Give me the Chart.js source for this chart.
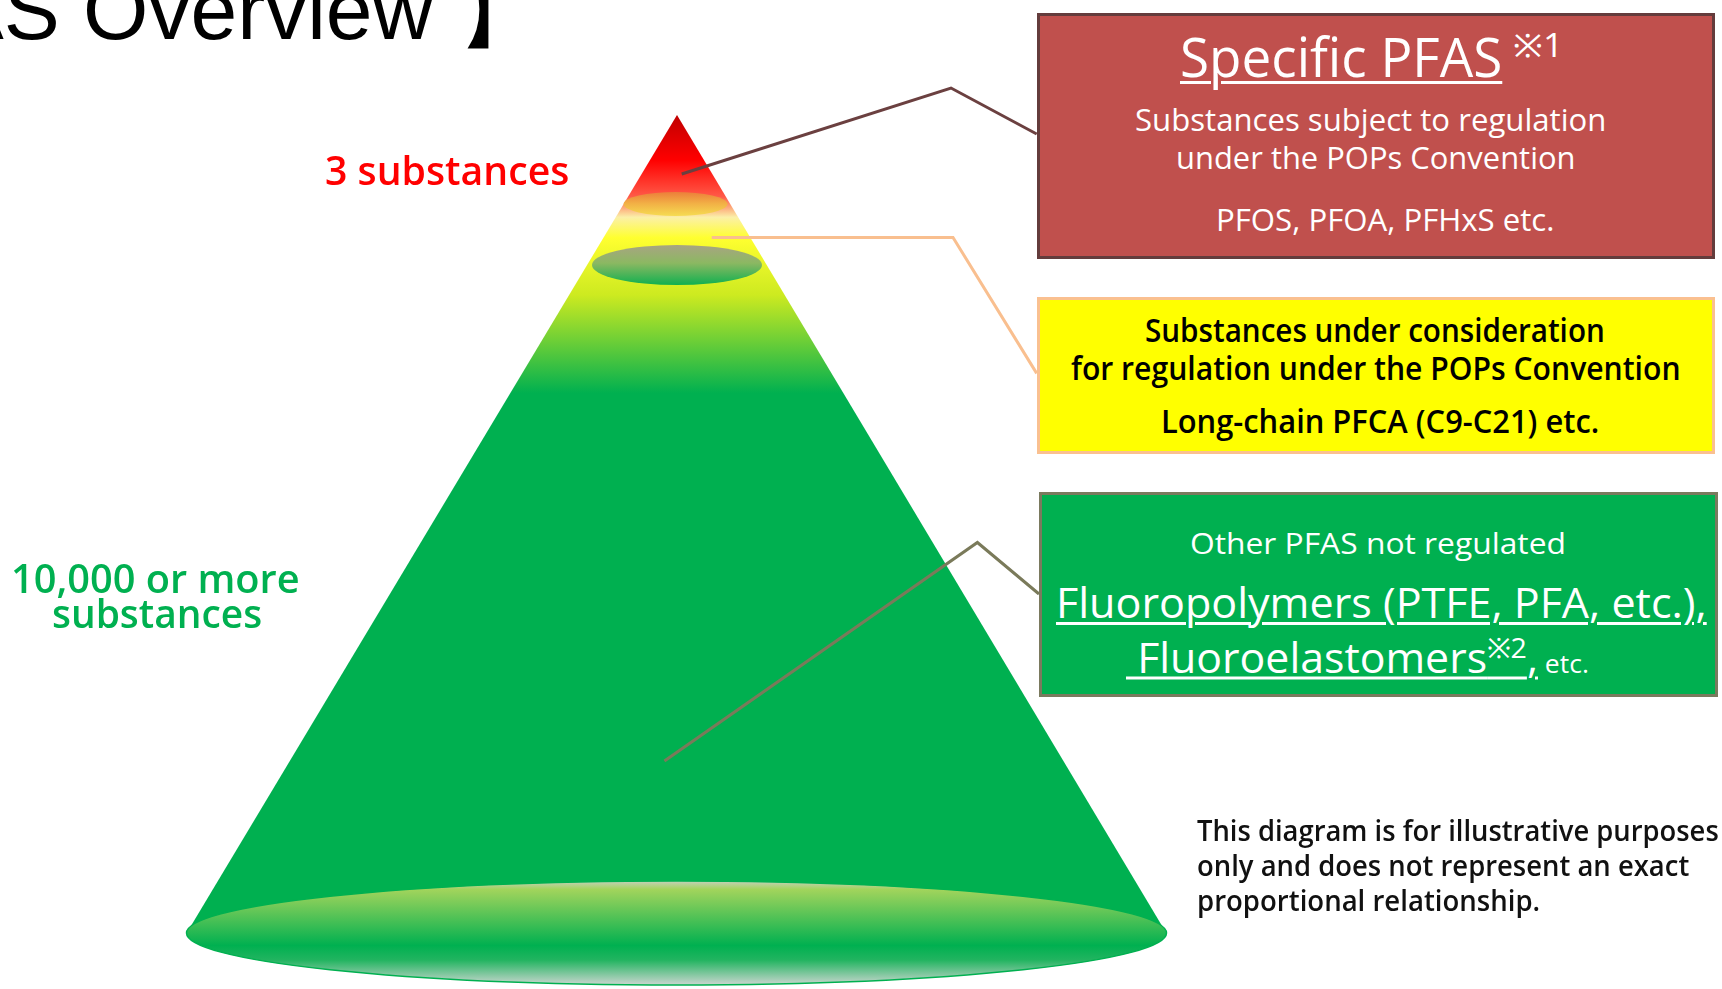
<!DOCTYPE html>
<html>
<head>
<meta charset="utf-8">
<script src="https://cdn.jsdelivr.net/npm/chart.js@4.4.1/dist/chart.umd.min.js"></script>
<style>
body{margin:0;background:#fff;overflow:hidden;width:1722px;height:989px;position:relative;font-family:"Open Sans",sans-serif}
canvas{position:absolute;left:0;top:0}
.box{position:absolute;box-sizing:border-box;border:3px solid}
.t{position:absolute;white-space:nowrap;line-height:1;transform-origin:0 50%}
.u{text-decoration:underline;text-decoration-thickness:2.5px;text-underline-offset:4px}
#title{position:absolute;top:-32px;left:0;white-space:nowrap;line-height:1;font-family:"Liberation Sans",Arial,sans-serif;font-size:84px;color:#000}
</style>
</head>
<body>
<canvas id="myChart" width="1722" height="989"></canvas>

<div id="title">【PFAS <span id="ov">Overview</span> 】</div>

<!-- boxes on the right -->
<div class="box" style="left:1037px;top:13px;width:678px;height:246px;background:#C0504D;border-color:#643c3c"></div>
<div class="box" style="left:1037px;top:297px;width:678px;height:157px;background:#FFFF00;border-color:#FAC090"></div>
<div class="box" style="left:1039px;top:492px;width:679px;height:205px;background:#00B050;border-color:#7a7a5e"></div>

<div class="t u" data-w="322" style="left:1180px;top:56px;font-size:54px;font-weight:500;color:#fff">Specific PFAS</div>
<div class="t" data-w="50" style="left:1513px;top:45px;font-size:32px;color:#fff">※1</div>
<div class="t" data-w="471" style="left:1135px;top:119px;font-size:31px;font-weight:500;color:#fff">Substances subject to regulation</div>
<div class="t" data-w="400" style="left:1176px;top:157px;font-size:31px;font-weight:500;color:#fff">under the POPs Convention</div>
<div class="t" data-w="339" style="left:1216px;top:219px;font-size:31px;font-weight:500;color:#fff">PFOS, PFOA, PFHxS etc.</div>

<div class="t" data-w="460" style="left:1145px;top:330px;font-size:32px;font-weight:600;color:#000">Substances under consideration</div>
<div class="t" data-w="610" style="left:1071px;top:368px;font-size:32px;font-weight:600;color:#000">for regulation under the POPs Convention</div>
<div class="t" data-w="438" style="left:1161px;top:421px;font-size:32px;font-weight:600;color:#000">Long-chain PFCA (C9-C21) etc.</div>

<div class="t" data-w="376" style="left:1190px;top:543px;font-size:30px;font-weight:500;color:#fff">Other PFAS not regulated</div>
<div class="t u" data-w="651" style="left:1056px;top:602px;font-size:42px;font-weight:500;color:#fff">Fluoropolymers (PTFE, PFA, etc.),</div>
<div class="t" data-w="463" style="left:1126px;top:655px;font-size:42px;font-weight:500;color:#fff"><span class="u">&nbsp;Fluoroelastomers<sup style="font-size:28px">※2</sup>,</span><span style="font-size:26px"> etc.</span></div>

<div class="t" data-w="522" style="left:1197px;top:829px;font-size:29px;font-weight:600;color:#111">This diagram is for illustrative purposes</div>
<div class="t" data-w="492" style="left:1197px;top:864px;font-size:29px;font-weight:600;color:#111">only and does not represent an exact</div>
<div class="t" data-w="343" style="left:1197px;top:899px;font-size:29px;font-weight:600;color:#111">proportional relationship.</div>

<div class="t" data-w="244" style="left:325px;top:170px;font-size:40px;font-weight:600;color:#ff0000">3 substances</div>
<div class="t" data-w="289" style="left:11px;top:578px;font-size:40px;font-weight:600;color:#00b050">10,000 or more</div>
<div class="t" data-w="210" style="left:52px;top:613px;font-size:40px;font-weight:600;color:#00b050">substances</div>

<script>
// cone outline (left base, apex, right base)
const coneX = [186.7, 677, 1166.3];
const coneY = [933, 115, 933];
// rings: top band, second band, base
const ringCx = [675.5, 677, 676.5];
const ringCy = [204, 265, 933];
const ringRx = [52, 85, 490];
const ringRy = [12, 20, 52];
// leader lines from cone to boxes
const leaderX = [[681.7, 951, 1036.7], [711.7, 953, 1036.7], [664.4, 977.4, 1039]];
const leaderY = [[174, 88, 134], [237.5, 237.5, 373.4], [761, 542.5, 594]];
const leaderColor = ['#6b4040', '#F9BF8F', '#7a7a5a'];

const ringStops = [
  [[0, '#ec7e3a'], [0.5, '#f2b246'], [1, '#f6dc52']],
  [[0, '#a8a482'], [0.45, '#8cb862'], [1, '#10b050']],
  [[0, '#c4cfbc'], [0.08, '#a2d45c'], [0.62, '#00b050'], [0.76, '#22b460'], [1, '#cbd6d0']]
];

function coneFill(ctx) {
  const chart = ctx.chart;
  if (!chart.chartArea) return '#00b050';
  const ys = chart.scales.y;
  const top = ys.getPixelForValue(coneY[1]), bot = ys.getPixelForValue(coneY[0]);
  const g = chart.ctx.createLinearGradient(0, top, 0, bot);
  g.addColorStop(0, '#c00000');
  g.addColorStop(0.055, '#ff0000');
  g.addColorStop(0.1, '#ff5a48');
  g.addColorStop(0.125, '#fbf0a8');
  g.addColorStop(0.15, '#ffff30');
  g.addColorStop(0.22, '#cdea20');
  g.addColorStop(0.34, '#00b050');
  g.addColorStop(1, '#00b050');
  return g;
}

// draws the elliptical rings right after the cone
const ringPlugin = {
  id: 'rings',
  afterDatasetDraw(chart, args) {
    if (args.index !== 0) return;
    const c = chart.ctx, xs = chart.scales.x, ys = chart.scales.y;
    ringCx.forEach((cx, i) => {
      const px = xs.getPixelForValue(cx), py = ys.getPixelForValue(ringCy[i]);
      const rx = Math.abs(xs.getPixelForValue(cx + ringRx[i]) - px);
      const ry = Math.abs(ys.getPixelForValue(ringCy[i] + ringRy[i]) - py);
      const g = c.createLinearGradient(0, py - ry, 0, py + ry);
      ringStops[i].forEach(s => g.addColorStop(s[0], s[1]));
      c.save();
      c.beginPath();
      c.ellipse(px, py, rx, ry, 0, 0, Math.PI * 2);
      c.fillStyle = g;
      c.fill();
      if (i === 2) {
        c.strokeStyle = '#00b050';
        c.lineWidth = 1.5;
        c.stroke();
      }
      c.restore();
    });
  }
};

// cone first (higher order = drawn behind), leaders on top
const datasets = [{
  data: coneX.map((x, i) => ({x: x, y: coneY[i]})),
  showLine: true,
  fill: 'shape',
  backgroundColor: coneFill,
  borderWidth: 0,
  pointRadius: 0,
  order: 5
}];
leaderX.forEach((xs, i) => {
  datasets.push({
    data: xs.map((x, j) => ({x: x, y: leaderY[i][j]})),
    showLine: true,
    fill: false,
    borderColor: leaderColor[i],
    borderWidth: 3,
    pointRadius: 0,
    tension: 0,
    order: 1
  });
});

const chart = new Chart(document.getElementById('myChart').getContext('2d'), {
  type: 'scatter',
  data: {datasets: datasets},
  options: {
    responsive: false,
    animation: false,
    layout: {padding: 0},
    plugins: {legend: {display: false}, tooltip: {enabled: false}},
    scales: {
      x: {type: 'linear', min: 0, max: 1722, display: false},
      y: {type: 'linear', min: 0, max: 989, reverse: true, display: false}
    }
  },
  plugins: [ringPlugin]
});

// squeeze each text line to the width it has in the picture
function fitText() {
  document.querySelectorAll('.t').forEach(el => {
    const w = +el.dataset.w, nat = el.offsetWidth;
    const k = w && nat ? w / nat : 1;
    el.style.transform = 'translateY(-50%) scaleX(' + k + ')';
  });
  const title = document.getElementById('title');
  title.style.left = (83 - document.getElementById('ov').offsetLeft) + 'px';
}
fitText();
if (document.fonts) document.fonts.ready.then(fitText);
</script>
</body>
</html>
